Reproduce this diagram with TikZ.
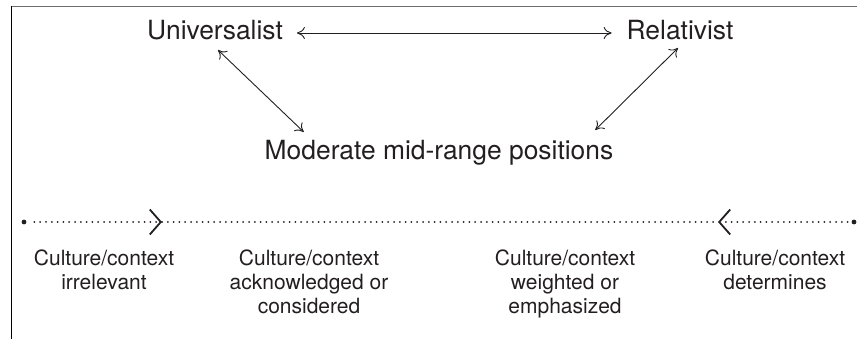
\documentclass[tikz,border=0pt]{standalone}
\usepackage{fontspec}
\setmainfont{TeX Gyre Heros}
\usetikzlibrary{arrows.meta,calc}
\definecolor{ink}{RGB}{35,31,32}
\definecolor{rule}{RGB}{110,110,110}
\begin{document}
\begin{tikzpicture}[x=1pt,y=-1pt,
  stance/.style={inner sep=0pt,outer sep=0pt,text=ink,
    font=\fontsize{26.4}{30}\selectfont,text height=19pt,text depth=5pt},
  scale label/.style={inner sep=0pt,outer sep=0pt,text=ink,align=center,
    font=\fontsize{21}{24}\selectfont,anchor=north},
  link/.style={draw=ink,line width=0.9pt,{To[length=8pt,width=12pt]}-{To[length=8pt,width=12pt]}},
  dotline/.style={draw=ink,line width=2pt,line cap=round,dash pattern=on 0pt off 5.8pt},
  chevron/.style={-{Straight Barb[length=11pt,width=25pt,line width=1.8pt]}},
  enddot/.style={circle,fill=ink,inner sep=0pt,minimum size=4.8pt,outer sep=0pt}]
  \useasboundingbox (0,0) rectangle (857,339);

  % frame
  \draw[rule,line width=1.5pt] (11,6.5) -- (857,6.5);
  \draw[black,line width=1.3pt] (11.5,5.8) -- (11.5,339);

  % the three positions
  \node[stance,anchor=base] (u) at (215,40) {Universalist};
  \node[stance,anchor=base] (r) at (680,40) {Relativist};
  \node[stance,anchor=base] (m) at (439,160) {Moderate mid-range positions};

  \draw[link] ([xshift=14pt]u.east) -- ([xshift=-15pt]r.west);
  \draw[link] ([shift={(3,5)}]u.south) -- ([shift={(39,-9)}]m.north west);
  \draw[link] ([shift={(-2,3)}]r.south) -- ([shift={(-18,-11)}]m.north east);

  % continuum
  \node[enddot] (ldot) at (24,222) {};
  \node[enddot] (rdot) at (854,222) {};
  \coordinate (c1) at (162,222);
  \coordinate (c2) at (718,222);
  \draw[dotline,chevron,shorten <=8pt] (ldot) -- (c1);
  \draw[dotline] (c1) -- (c2);
  \draw[dotline,chevron,shorten <=4pt] (rdot) -- (c2);

  \node[scale label] (l1) at (104,250) {Culture/context\\irrelevant};
  \node[scale label] (l2) at (309,250) {Culture/context\\acknowledged or\\considered};
  \node[scale label] (l3) at (565,250) {Culture/context\\weighted or\\emphasized};
  \node[scale label] (l4) at (775,250) {Culture/context\\determines};
\end{tikzpicture}
\end{document}
